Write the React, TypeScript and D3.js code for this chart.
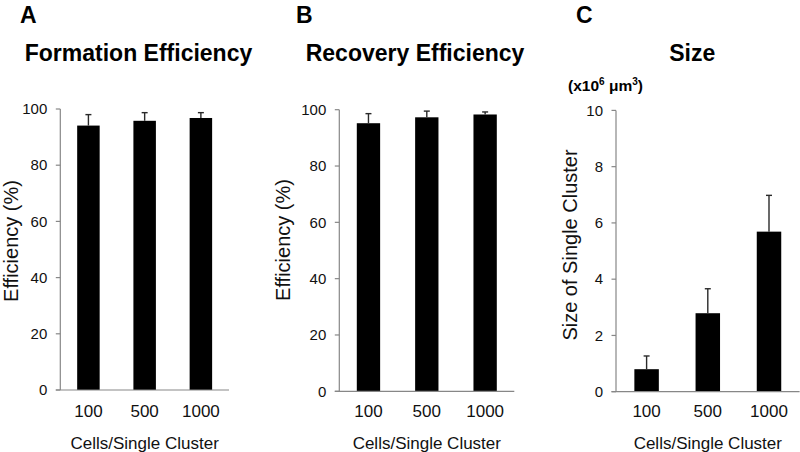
import React from "react";
import * as d3 from "d3";

const categories = ["100", "500", "1000"];

const formationMean = [94.1, 95.8, 96.8];
const formationErr = [3.9, 2.9, 1.9];

const recoveryMean = [95.2, 97.3, 98.3];
const recoveryErr = [3.4, 2.2, 0.9];

const sizeMean = [0.8, 2.79, 5.69];
const sizeErr = [0.47, 0.87, 1.29];

const efficiencyTicks = [0, 20, 40, 60, 80, 100];
const sizeTicks = [0, 2, 4, 6, 8, 10];

const FONT = "'Liberation Sans', Arial, Helvetica, sans-serif";
const AXIS = "#878787";

type PanelProps = {
  letter: string;
  letterX: number;
  title: string;
  titleX: number;
  x0: number;
  x1: number;
  yBottom: number;
  yTop: number;
  domainMax: number;
  ticks: number[];
  means: number[];
  errs: number[];
  yTitle: string;
  yTitleX: number;
  yTitleY: number;
  unit?: boolean;
};

function Panel(p: PanelProps) {
  const x = d3
    .scaleBand<string>()
    .domain(categories)
    .range([p.x0, p.x1])
    .paddingInner(0.6)
    .paddingOuter(0.3);
  const y = d3.scaleLinear().domain([0, p.domainMax]).range([p.yBottom, p.yTop]);
  const bw = x.bandwidth();
  return (
    <g>
      <text x={p.letterX} y={23} fontFamily={FONT} fontWeight="bold" fontSize={23} fill="#000">
        {p.letter}
      </text>
      <text x={p.titleX} y={61} fontFamily={FONT} fontWeight="bold" fontSize={23} fill="#000" textAnchor="middle">
        {p.title}
      </text>
      {p.unit && (
        <text x={568} y={91} fontFamily={FONT} fontWeight="bold" fontSize={15.5} fill="#000">
          (x10
          <tspan fontSize={10} dy={-6}>6</tspan>
          <tspan dy={6}> μm</tspan>
          <tspan fontSize={10} dy={-6}>3</tspan>
          <tspan dy={6}>)</tspan>
        </text>
      )}
      {p.means.map((m, i) => (
        <rect
          key={"b" + i}
          x={x(categories[i])!}
          y={y(m)}
          width={bw}
          height={y(0) - y(m)}
          fill="#000"
        />
      ))}
      {p.means.map((m, i) => {
        const cx = x(categories[i])! + bw / 2;
        const top = y(m + p.errs[i]);
        return (
          <g key={"e" + i} stroke="#2a2a2a" strokeWidth={1.4}>
            <line x1={cx} x2={cx} y1={y(m)} y2={top} />
            <line x1={cx - 3} x2={cx + 3} y1={top} y2={top} />
          </g>
        );
      })}
      <line x1={p.x0} x2={p.x0} y1={p.yTop} y2={p.yBottom} stroke={AXIS} strokeWidth={1.2} />
      {p.ticks.map((t) => (
        <g key={"t" + t}>
          <line x1={p.x0 - 4.5} x2={p.x0} y1={y(t)} y2={y(t)} stroke={AXIS} strokeWidth={1.2} />
          <text
            x={p.x0 - 13}
            y={y(t)}
            dy="0.35em"
            textAnchor="end"
            fontFamily={FONT}
            fontSize={15}
            fill="#111"
          >
            {t}
          </text>
        </g>
      ))}
      <line x1={p.x0 - 4.5} x2={p.x1} y1={p.yBottom} y2={p.yBottom} stroke={AXIS} strokeWidth={1.2} />
      {categories.map((c) => (
        <text
          key={"x" + c}
          x={x(c)! + bw / 2}
          y={417}
          textAnchor="middle"
          fontFamily={FONT}
          fontSize={17}
          fill="#111"
        >
          {c}
        </text>
      ))}
      <text
        x={(p.x0 + p.x1) / 2}
        y={449}
        textAnchor="middle"
        fontFamily={FONT}
        fontSize={17}
        fill="#111"
      >
        Cells/Single Cluster
      </text>
      <text
        transform={`translate(${p.yTitleX},${p.yTitleY}) rotate(-90)`}
        textAnchor="middle"
        fontFamily={FONT}
        fontSize={20}
        fill="#111"
      >
        {p.yTitle}
      </text>
    </g>
  );
}

export default function App() {
  return (
    <svg
      width={800}
      height={452}
      style={{ position: "absolute", left: 0, top: 0, background: "#fff" }}
    >
      <rect x={0} y={0} width={800} height={452} fill="#fff" />
      <Panel
        letter="A"
        letterX={20}
        title="Formation Efficiency"
        titleX={138.5}
        x0={60.3}
        x1={229}
        yBottom={390}
        yTop={109}
        domainMax={100}
        ticks={efficiencyTicks}
        means={formationMean}
        errs={formationErr}
        yTitle="Efficiency (%)"
        yTitleX={17.5}
        yTitleY={241}
      />
      <Panel
        letter="B"
        letterX={296}
        title="Recovery Efficiency"
        titleX={415}
        x0={339.3}
        x1={514.3}
        yBottom={391.3}
        yTop={109.7}
        domainMax={100}
        ticks={efficiencyTicks}
        means={recoveryMean}
        errs={recoveryErr}
        yTitle="Efficiency (%)"
        yTitleX={289.5}
        yTitleY={240}
      />
      <Panel
        letter="C"
        letterX={576}
        title="Size"
        titleX={692.3}
        x0={616}
        x1={799.6}
        yBottom={391.7}
        yTop={110.4}
        domainMax={10}
        ticks={sizeTicks}
        means={sizeMean}
        errs={sizeErr}
        yTitle="Size of Single Cluster"
        yTitleX={577}
        yTitleY={245}
        unit
      />
    </svg>
  );
}
